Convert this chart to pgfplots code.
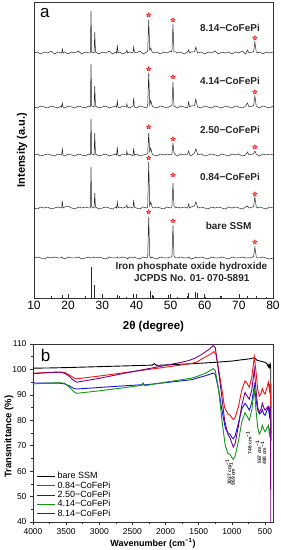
\documentclass[border=0pt]{standalone}
\usepackage{pgfplots}
\pgfplotsset{compat=1.18}
\usepackage{pgfplotstable}
\usepackage{fontspec}
\setmainfont{Liberation Sans}
\setsansfont{Liberation Sans}

\definecolor{cred}{RGB}{235,20,20}
\definecolor{cblue}{RGB}{20,20,220}
\definecolor{cgreen}{RGB}{20,150,20}
\definecolor{cpurple}{RGB}{120,0,130}

\pgfdeclareplotmark{rstar}{%
  \pgfpathmoveto{\pgfpointpolar{90}{\pgfplotmarksize}}%
  \pgfpathlineto{\pgfpointpolar{126}{0.45\pgfplotmarksize}}%
  \pgfpathlineto{\pgfpointpolar{162}{\pgfplotmarksize}}%
  \pgfpathlineto{\pgfpointpolar{198}{0.45\pgfplotmarksize}}%
  \pgfpathlineto{\pgfpointpolar{234}{\pgfplotmarksize}}%
  \pgfpathlineto{\pgfpointpolar{270}{0.45\pgfplotmarksize}}%
  \pgfpathlineto{\pgfpointpolar{306}{\pgfplotmarksize}}%
  \pgfpathlineto{\pgfpointpolar{342}{0.45\pgfplotmarksize}}%
  \pgfpathlineto{\pgfpointpolar{18}{\pgfplotmarksize}}%
  \pgfpathlineto{\pgfpointpolar{54}{0.45\pgfplotmarksize}}%
  \pgfpathclose
  \pgfusepathqfillstroke
}

% XRD patterns (stacked, arbitrary units)
\pgfplotstableread{
x A B C D E
10 245 191 143 90 40
11 246 190 144 89 41
12 244 192 142 91 40
13 246 191 143 90 39
14 245 190 144 91 41
15 247 192 143 89 40
16 244 191 142 90 41
17 246 190 144 91 40
18 245 192 143 90 40
18.1 245 191 143 90 41
18.3 249 195 149 97 40
18.5 245 191 143 90 40
19 246 190 142 91 39
20 244 192 144 92 41
21 246 191 143 90 40
22 245 190 142 89 40
23 247 192 144 91 41
24 244 191 143 90 39
25 246 190 142 91 40
26 245 192 144 90 41
26.5 245 191 143 90 40
26.7 287 234 179 131 40
26.9 246 192 144 91 40
27.6 245 191 143 90 41
27.8 266 212 165 105 40
28.0 246 192 144 91 40
29 244 190 142 89 41
30 246 191 143 90 40
31 245 192 144 91 39
32 247 190 142 90 41
33 244 191 143 89 40
34 246 192 144 91 40
34.2 245 191 143 90 40
34.4 253 197 151 96 41
34.6 245 191 143 90 40
35 246 190 142 91 40
36 244 192 144 90 41
37 246 191 143 91 40
37.2 248 194 147 93 40
37.4 245 191 143 90 39
38 246 190 144 91 41
39 245 192 142 90 40
39.2 251 200 150 98 40
39.4 246 191 143 91 41
40 245 190 144 90 40
41 247 192 142 89 39
42 244 191 143 91 41
43 246 190 144 90 40
43.3 246 192 144 91 41
43.6 278 225 165 136 81
43.9 248 193 146 92 42
44.2 250 198 150 96 40
44.6 246 192 144 91 41
45 245 191 143 90 40
46 246 190 142 91 39
47 244 192 144 90 41
48 246 191 143 89 40
49 245 190 144 91 40
50 247 192 143 90 41
50.4 246 192 144 91 41
50.7 274 216 155 115 73
51.0 246 192 145 92 42
51.5 246 191 143 90 40
52 245 190 142 91 40
53 246 192 144 90 41
54 244 191 143 91 40
55 246 190 144 90 40
55.3 248 196 147 94 41
55.6 245 191 143 90 40
56 246 192 142 91 39
57 246 192 145 92 40
57.4 251 199 149 96 41
57.8 246 192 145 92 40
58 245 191 143 90 40
59 246 190 144 91 41
60 244 192 142 90 40
61 246 191 143 89 39
62 245 190 144 91 41
63 247 192 143 90 40
64 244 191 142 91 40
65 246 190 144 90 41
66 245 192 143 89 40
67 246 191 142 91 39
68 244 190 144 90 41
69 246 192 143 91 40
70 245 191 144 90 40
71 247 190 142 89 41
72 244 192 143 91 40
72.5 248 195 146 92 40
73 245 191 143 90 40
74 246 192 144 91 41
74.3 246 192 144 91 41
74.7 256 202 147 101 51
75.1 246 192 144 91 41
75.5 245 191 143 90 40
76 246 190 142 91 40
77 244 192 144 90 41
78 246 191 143 89 40
79 245 190 144 91 39
80 246 192 143 90 40
}\xrd

\begin{document}
\begin{tikzpicture}
\useasboundingbox (0,0) rectangle (281pt,550pt);

% ---------------- panel a ----------------
\begin{axis}[
  at={(34pt,252pt)}, anchor=south west,
  scale only axis, width=239pt, height=296pt,
  xmin=10, xmax=80, ymin=0, ymax=296,
  xtick={10,20,...,80}, minor x tick num=1,
  ytick=\empty,
  xtick pos=left,
  tick align=inside,
  major tick length=4pt, minor tick length=2pt,
  axis line style={line width=0.8pt, black!80},
  tick style={line width=0.6pt, black!80},
  tick label style={font=\fontsize{12}{13}\selectfont},
  /pgf/number format/assume math mode=true,
  xlabel={\textbf{2θ (degree)}},
  xlabel style={at={(axis description cs:0.5,-0.098)}, anchor=center, font=\fontsize{11.5}{12}\selectfont},
  ylabel={\textbf{Intensity (a.u.)}},
  ylabel style={at={(axis description cs:-0.05,0.5)}, anchor=center, rotate=0, font=\fontsize{11}{12}\selectfont},
  clip=false,
]
\addplot[black!85, line width=0.5pt] table[x=x, y=A] {\xrd};
\addplot[black!85, line width=0.5pt] table[x=x, y=B] {\xrd};
\addplot[black!85, line width=0.5pt] table[x=x, y=C] {\xrd};
\addplot[black!85, line width=0.5pt] table[x=x, y=D] {\xrd};
\addplot[black!85, line width=0.5pt] table[x=x, y=E] {\xrd};
% reference pattern
\addplot[ycomb, black!85, line width=0.8pt, mark=none] coordinates {
 (18.3,2.5) (26.8,31) (27.8,13) (34.4,2.5) (37.2,1.2) (39.2,4.3)
 (44.2,6.7) (44.8,2.7) (49.4,2.7) (52.0,1) (55.3,5) (57.4,6) (57.8,5)
 (60.2,1) (64.5,2.3) (72.5,1.7) (78.0,0.8)
};
% Fe (SSM) markers
\addplot[only marks, mark=rstar, mark size=2.2pt, mark options={draw=red, fill=red!35, line width=0.5pt}] coordinates {
 (43.6,283) (50.7,278) (74.7,260)
 (43.6,229) (50.7,221) (74.7,206)
 (43.6,171) (50.7,159) (74.7,151)
 (43.6,140) (50.7,123) (74.7,104)
 (43.6,86) (50.7,77) (74.7,56)
};
\begin{scope}[every node/.style={font=\fontsize{10}{11}\selectfont\bfseries, text=black!85, inner sep=0pt}]
\node at (axis cs:67.4,270) {8.14−CoFePi};
\node at (axis cs:67.4,217) {4.14−CoFePi};
\node at (axis cs:67.4,168) {2.50−CoFePi};
\node at (axis cs:67.4,121) {0.84−CoFePi};
\node at (axis cs:67.0,72) {bare SSM};
\node at (axis cs:56.1,31) {Iron phosphate oxide hydroxide};
\node at (axis cs:56.2,20) {JCPDS No. 01- 070-5891};
\end{scope}
\node[font=\fontsize{17}{17}\selectfont, inner sep=0pt] at (axis cs:13.2,285) {a};
\end{axis}

% ---------------- panel b ----------------
\begin{axis}[
  at={(33pt,28pt)}, anchor=south west,
  scale only axis, width=240pt, height=178pt,
  xmin=380, xmax=4000, x dir=reverse,
  ymin=40, ymax=110,
  xtick={500,1000,...,4000}, minor x tick num=1,
  ytick={40,50,...,110}, minor y tick num=1,
  xtick pos=left, ytick pos=left,
  tick align=outside,
  major tick length=3pt, minor tick length=1.5pt,
  axis line style={line width=0.6pt, black!80},
  tick style={line width=0.5pt, black!80},
  tick label style={font=\fontsize{8.5}{9}\selectfont},
  /pgf/number format/assume math mode=true,
  /pgf/number format/1000 sep={},
  xlabel={\textbf{Wavenumber (cm\textsuperscript{−1})}},
  xlabel style={at={(axis description cs:0.5,-0.118)}, anchor=center, font=\fontsize{9}{10}\selectfont},
  ylabel={\textbf{Transmittance (\%)}},
  ylabel style={at={(axis description cs:-0.1,0.48)}, anchor=center, rotate=0, font=\fontsize{9.5}{10}\selectfont},
  legend style={at={(axis description cs:0.01,0.005)}, anchor=south west, draw=none, fill=none,
    font=\fontsize{9}{9}\selectfont, row sep=-2.6pt, inner sep=1pt},
  legend cell align=left,
  legend image code/.code={\draw[#1, line width=1pt] (0pt,0pt) -- (18pt,0pt);},
  clip=true,
]
\addplot[black, line width=0.9pt] coordinates {
 (4000,100.5)(3700,100.6)(3400,100.8)(3000,101.1)(2600,101.4)(2200,101.7)(2170,102.3)(2140,101.6)
 (1800,102.0)(1500,102.4)(1250,102.8)(1000,103.3)(850,103.8)(720,104.2)(662,104.6)(620,103.6)
 (560,103.2)(500,102.8)(470,102.2)(450,101.0)(440,102.0)(430,100.8)(420,101.8)(414,100.5)(410,72)
};
\addlegendentry{bare SSM}
\addplot[cred, line width=0.9pt] coordinates {
 (4000,98.5)(3800,98.8)(3600,99.0)(3520,98.8)(3450,97.8)(3380,96.6)(3340,96.3)(3000,97.4)
 (2600,98.8)(2200,100.2)(2000,100.9)(1800,101.6)(1600,102.4)(1520,103.0)(1450,104.2)(1350,105.6)
 (1270,107.0)(1240,106.0)(1200,100)(1150,92)(1110,85)(1060,82.5)(1027,82.0)(1000,81.0)(979,80.3)
 (950,81.2)(900,85.5)(850,92)(802,95.5)(770,94.5)(737,93.0)(700,97)(662,105.0)(640,100)(610,92)
 (586,89.5)(560,90.5)(541,92.5)(520,91)(500,90.3)(470,93)(450,95)(435,92)(425,94.5)(416,88)(412,85)
};
\addlegendentry{0.84−CoFePi}
\addplot[cblue, line width=0.9pt] coordinates {
 (4000,94.7)(3800,94.6)(3600,94.6)(3520,94.3)(3450,93.5)(3380,92.5)(3340,92.3)(3000,92.9)
 (2600,93.6)(2350,94.0)(2340,94.6)(2320,93.9)(2000,94.8)(1800,95.4)(1600,96.0)(1500,96.8)
 (1400,97.5)(1280,98.6)(1250,98.0)(1200,92)(1150,84)(1100,77)(1060,75.0)(1027,74.5)(1000,73.3)
 (979,72.7)(950,74)(900,79)(850,84.5)(802,86.7)(770,85.5)(737,84.0)(700,87)(662,93.8)(640,89)
 (610,84)(586,82.5)(560,83)(541,84.2)(520,82.5)(500,82)(470,84)(450,85.2)(435,82)(425,84.5)(416,78)(412,75)
};
\addlegendentry{2.50−CoFePi}
\addplot[cgreen, line width=0.9pt] coordinates {
 (4000,94.3)(3800,94.6)(3600,94.8)(3520,94.5)(3450,93.0)(3380,91.2)(3340,90.6)(3000,91.6)
 (2600,92.9)(2350,93.8)(2340,94.6)(2320,93.6)(2000,95.0)(1800,95.8)(1600,96.6)(1500,97.5)
 (1400,98.5)(1280,100.3)(1250,99.5)(1200,92)(1150,80)(1100,70)(1060,67)(1027,66.5)(1000,65.3)
 (979,64.6)(950,66)(900,72)(850,79.5)(802,83.0)(770,81.5)(737,80.0)(700,84)(662,92.5)(640,85)
 (610,77)(586,74.6)(560,76)(541,78)(520,76.5)(500,75.5)(470,77)(450,78)(435,74.5)(425,77)(416,73)(412,72)
};
\addlegendentry{4.14−CoFePi}
\addplot[cpurple, line width=0.9pt] coordinates {
 (4000,98.3)(3800,98.7)(3600,98.9)(3520,98.5)(3450,97.2)(3380,95.5)(3340,95.0)(3000,96.5)
 (2600,98.6)(2200,100.6)(2000,101.6)(1800,102.6)(1650,103.5)(1550,104.5)(1450,106.0)(1350,107.8)
 (1280,109.4)(1250,108.5)(1210,101)(1160,91)(1110,80)(1060,74.5)(1027,73.0)(1000,71)(979,69.5)
 (950,71)(900,78)(850,86)(802,91.0)(770,89.5)(737,88.3)(700,92)(662,100)(640,93)(610,85)
 (586,83)(560,84.5)(541,86.7)(520,85)(500,84)(470,85)(450,85.5)(435,83)(425,85.5)(416,80)(414,40)
};
\addlegendentry{8.14−CoFePi}
\begin{scope}[every node/.style={font=\fontsize{5}{5}\selectfont\bfseries, rotate=90, inner sep=0pt, text=black!85}]
\node at (axis cs:1054,59.7) {1027 cm\textsuperscript{−1}};
\node at (axis cs:994,58.9) {969 cm\textsuperscript{−1}};
\node at (axis cs:742,71.1) {746 cm\textsuperscript{−1}};
\node at (axis cs:601,67.5) {567 cm\textsuperscript{−1}};
\node at (axis cs:526,67.1) {480 cm\textsuperscript{−1}};
\end{scope}
\node[font=\fontsize{17}{17}\selectfont, inner sep=0pt] at (axis cs:3808,105.5) {b};
\end{axis}
\end{tikzpicture}
\end{document}
